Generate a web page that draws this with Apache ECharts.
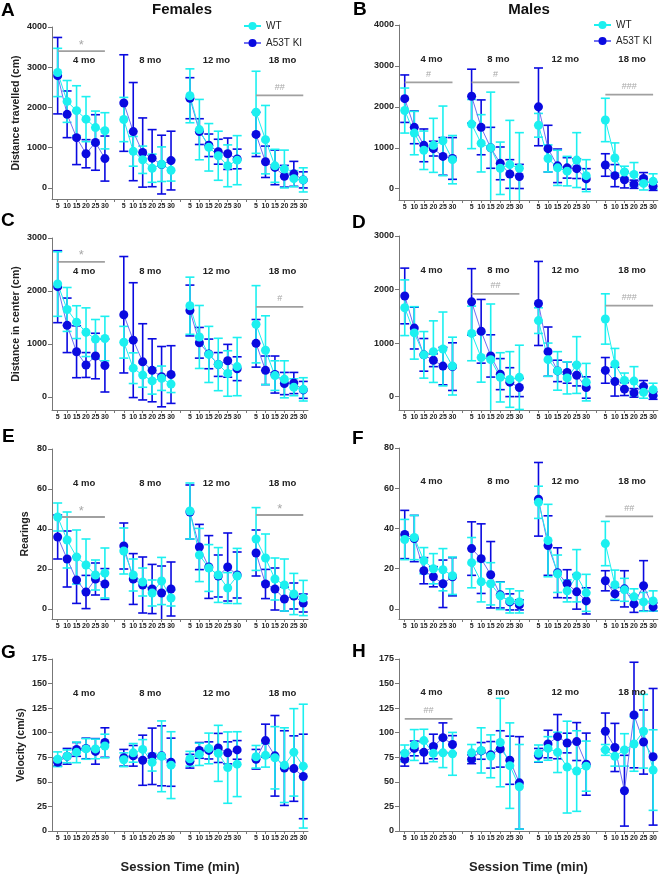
<!DOCTYPE html>
<html>
<head>
<meta charset="utf-8">
<title>Open field, WT vs A53T KI</title>
<script src="https://cdn.jsdelivr.net/npm/echarts@6/dist/echarts.min.js"></script>
<style>
  html, body { margin: 0; padding: 0; background: #fff; }
  #chart { width: 660px; height: 877px; }
</style>
</head>
<body>
<div id="chart"></div>
<script>
// session bins (min) and age groups, 6 bins per age
const minutes = [5, 10, 15, 20, 25, 30]
const ages = ['4 mo', '8 mo', '12 mo', '18 mo']

// A - females, distance travelled (cm); values are 4mo | 8mo | 12mo | 18mo
const aWT = [2870, 2150, 1920, 1710, 1500, 1420, 1700, 910, 700, 490, 590, 440, 2290, 1450, 1010, 800, 550, 690, 1880, 1200, 550, 470, 230, 200]
const aWTsd = [600, 520, 620, 560, 410, 450, 550, 370, 340, 350, 430, 270, 670, 750, 590, 610, 520, 610, 1020, 850, 410, 470, 200, 300]
const aKI = [2790, 1830, 1250, 850, 1130, 730, 2110, 1400, 880, 740, 580, 680, 2230, 1400, 1060, 900, 850, 720, 1330, 650, 510, 290, 350, 200]
const aKIsd = [950, 580, 670, 350, 690, 560, 1200, 1220, 860, 710, 730, 730, 510, 320, 280, 310, 390, 245, 550, 390, 430, 270, 310, 200]

// B - males, distance travelled (cm)
const bWT = [1910, 1360, 940, 1060, 1170, 710, 1580, 1110, 1000, 500, 590, 500, 1550, 740, 510, 430, 700, 320, 1680, 750, 410, 350, 130, 180]
const bWTsd = [550, 530, 470, 660, 850, 590, 600, 700, 1360, 640, 1080, 870, 290, 330, 430, 360, 670, 390, 530, 370, 140, 290, 160, 185]
const bKI = [2200, 1500, 1060, 980, 790, 740, 2260, 1500, 1000, 620, 360, 300, 2000, 980, 560, 510, 490, 240, 580, 320, 220, 110, 250, 60]
const bKIsd = [580, 400, 400, 180, 460, 510, 660, 670, 500, 400, 350, 295, 950, 570, 410, 250, 240, 250, 275, 270, 200, 100, 145, 100]

// C - females, distance in center (cm)
const cWT = [2130, 1650, 1410, 1220, 1090, 1100, 1030, 540, 410, 300, 350, 240, 1720, 1130, 800, 610, 440, 570, 1370, 880, 400, 330, 180, 140]
const cWTsd = [610, 415, 310, 460, 370, 420, 300, 290, 230, 250, 230, 160, 540, 595, 530, 495, 430, 550, 730, 650, 280, 350, 160, 220]
const cKI = [2080, 1350, 850, 600, 770, 590, 1550, 1070, 660, 500, 380, 420, 1630, 1020, 810, 610, 680, 530, 1010, 500, 420, 250, 260, 130]
const cKIsd = [680, 515, 490, 235, 430, 500, 1100, 1085, 720, 595, 570, 545, 480, 290, 280, 225, 310, 225, 450, 270, 350, 210, 200, 160]

// D - males, distance in center (cm)
const dWT = [1660, 1190, 780, 840, 890, 570, 1180, 730, 690, 360, 320, 360, 1420, 690, 480, 350, 590, 270, 1450, 610, 300, 290, 80, 130]
const dWTsd = [520, 490, 435, 575, 690, 540, 510, 460, 1040, 460, 520, 600, 240, 310, 360, 300, 530, 350, 470, 290, 140, 270, 110, 120]
const dKI = [1880, 1280, 780, 680, 570, 560, 1770, 1220, 760, 420, 270, 170, 1740, 840, 480, 450, 400, 170, 490, 280, 140, 70, 190, 20]
const dKIsd = [520, 390, 305, 120, 350, 445, 620, 595, 395, 290, 270, 170, 785, 460, 200, 200, 200, 200, 240, 270, 120, 80, 110, 70]

// E - females, rearings
const eWT = [46, 34.5, 26, 22, 17, 18, 29, 17, 13.5, 8, 14, 5.5, 49, 27, 20.5, 17, 10.5, 16.5, 35, 25.5, 15, 12, 7.5, 5.5]
const eWTsd = [7, 14, 13.5, 13, 7.5, 12.5, 11.5, 8, 7, 6.5, 11.8, 4, 14, 13.3, 11.7, 13.7, 7.7, 13.8, 15.7, 12, 10.5, 13, 10.3, 8.8]
const eKI = [36, 25, 14.5, 8.5, 15, 12.5, 31.5, 15, 12, 10, 8, 10, 48.5, 31, 21, 16.5, 21, 17, 28, 12.5, 10, 5, 6.5, 3]
const eKIsd = [11, 14, 11.7, 8.3, 8, 7.7, 11.5, 12.7, 14, 12.3, 13.5, 13.5, 13.5, 11.3, 15.7, 10.5, 17, 11.5, 11.5, 7.3, 10.5, 6, 6.5, 4.5]

// F - males, rearings
const fWT = [34.5, 35.5, 24, 20, 19.5, 16.5, 23, 13.5, 12.5, 6.5, 4, 3.5, 53, 34, 17.5, 9, 16.5, 8, 32.5, 12, 9.5, 6, 3.5, 4]
const fWTsd = [10, 11, 6.5, 7.5, 10.5, 9.3, 12.5, 10, 10.5, 6.8, 6, 5.5, 8, 18, 9.3, 5.5, 13, 9.2, 11, 7.3, 5.7, 4, 4.7, 5]
const fKI = [37, 35, 19, 16, 12.5, 16, 30, 25, 17, 7, 3.5, 2, 54.5, 31.5, 18, 12.5, 8.5, 4, 14, 7.5, 10, 2.5, 11.5, 1]
const fKIsd = [12, 11.5, 6.5, 5, 11.8, 9.5, 13.3, 17.3, 16.5, 6.5, 4, 2.5, 18.3, 14.8, 12.4, 7, 8.6, 6.5, 5, 3.2, 9, 4.2, 12.5, 2]

// G - females, velocity (cm/s)
const gWT = [73, 76, 80, 83.5, 83.5, 86.5, 72.5, 79.5, 83, 70, 76, 67, 73.5, 78, 84, 79, 64.5, 68, 75.5, 77, 74.5, 67, 80, 66]
const gWTsd = [7.5, 6.5, 10.5, 10.5, 10, 12, 7, 9.5, 10, 9, 36, 34, 7.5, 11.3, 15.6, 28.5, 36.3, 33, 11.5, 12, 31.7, 38, 44.5, 63]
const gKI = [70, 76, 83, 84, 81, 90, 74.5, 76.5, 72, 76, 76.5, 70, 71, 82, 82, 84.5, 79.5, 82.5, 73, 92, 76.5, 64, 63.5, 55.5]
const gKIsd = [4, 8, 7, 10.5, 13, 15, 8.5, 10.5, 25.5, 28.7, 30.5, 24.5, 7, 8, 8.7, 14.8, 11.2, 9.5, 10, 16.7, 41, 38, 33.3, 43]

// H - males, velocity (cm/s)
const hWT = [79, 87.5, 92, 79, 79.5, 78.5, 79.5, 82, 76, 90, 66.5, 45, 79, 84, 80, 65, 61, 66, 82.5, 76, 82.5, 88.5, 101.5, 62]
const hWTsd = [8.5, 15.7, 11.5, 8.5, 15, 21.8, 8.5, 23, 21.8, 45, 43.5, 43, 8.5, 12, 20.5, 46.7, 41, 25.5, 5.5, 10, 16.5, 27.7, 37.5, 41]
const hKI = [73, 84, 80, 86, 95, 88, 73, 81.5, 77.5, 83.5, 72, 49, 77, 88.5, 96, 89.5, 91, 68, 101.5, 85, 41, 118, 90.5, 75.5]
const hKIsd = [7, 7.5, 11.2, 12.5, 15, 9, 4.5, 8.5, 13.5, 18.5, 24.5, 47, 7, 14, 22.5, 10, 19.3, 31.6, 18.5, 24.5, 36, 53.7, 32.6, 69.5]

// significance bars: [from slot, to slot, level, mark]
const aSig = [[0, 5, 3400, '*'], [21, 26, 2300, '##']]
const bSig = [[0, 5, 2600, '#'], [7, 12, 2600, '#'], [21, 26, 2300, '###']]
const cSig = [[0, 5, 2550, '*'], [21, 26, 1700, '#']]
const dSig = [[7, 12, 1920, '##'], [21, 26, 1700, '###']]
const eSig = [[0, 5, 46, '*'], [21, 26, 47, '*']]
const fSig = [[21, 26, 46, '##']]
const gSig = []
const hSig = [[0, 5, 114, '##']]

// y-axis tick labels
const distTicks = [0, 1000, 2000, 3000, 4000]
const centerTicks = [0, 1000, 2000, 3000]
const rearTicks = [0, 20, 40, 60, 80]
const velTicks = [0, 25, 50, 75, 100, 125, 150, 175]

const WT = '#1cf0f0'
const KI = '#0a0ae0'
const KI_LINE = '#6f6ff2'
const FONT = '"Liberation Sans", Arial, sans-serif'
const SLOT = 7 // 6 bins + 1 empty slot between age groups

const panels = [
  { letter: 'A', wt: aWT, wtSd: aWTsd, ki: aKI, kiSd: aKIsd, sig: aSig, ticks: distTicks, min: -275, max: 4000, labelY: 3180,
    left: 52, width: 256, top: 27, height: 172, name: 'Distance travelled (cm)', nameGap: 30, lx: 1, ly: 11 },
  { letter: 'B', wt: bWT, wtSd: bWTsd, ki: bKI, kiSd: bKIsd, sig: bSig, ticks: distTicks, min: -275, max: 4000, labelY: 3170,
    left: 399, width: 259, top: 25, height: 175, lx: 353, ly: 10 },
  { letter: 'C', wt: cWT, wtSd: cWTsd, ki: cKI, kiSd: cKIsd, sig: cSig, ticks: centerTicks, min: -250, max: 3000, labelY: 2360,
    left: 52, width: 256, top: 238, height: 172, name: 'Distance in center (cm)', nameGap: 30, lx: 1, ly: 221 },
  { letter: 'D', wt: dWT, wtSd: dWTsd, ki: dKI, kiSd: dKIsd, sig: dSig, ticks: centerTicks, min: -250, max: 3000, labelY: 2350,
    left: 399, width: 259, top: 236, height: 174, lx: 352, ly: 223 },
  { letter: 'E', wt: eWT, wtSd: eWTsd, ki: eKI, kiSd: eKIsd, sig: eSig, ticks: rearTicks, min: -5, max: 80, labelY: 63,
    left: 52, width: 256, top: 449, height: 170, name: 'Rearings', nameGap: 21, lx: 2, ly: 437 },
  { letter: 'F', wt: fWT, wtSd: fWTsd, ki: fKI, kiSd: fKIsd, sig: fSig, ticks: rearTicks, min: -5, max: 80, labelY: 63.5,
    left: 399, width: 259, top: 448, height: 171, lx: 352, ly: 439 },
  { letter: 'G', wt: gWT, wtSd: gWTsd, ki: gKI, kiSd: gKIsd, sig: gSig, ticks: velTicks, min: 0, max: 175, labelY: 140,
    left: 52, width: 256, top: 659, height: 172, name: 'Velocity (cm/s)', nameGap: 25, lx: 1, ly: 653, xName: true },
  { letter: 'H', wt: hWT, wtSd: hWTsd, ki: hKI, kiSd: hKIsd, sig: hSig, ticks: velTicks, min: 0, max: 175, labelY: 141,
    left: 399, width: 259, top: 659, height: 172, lx: 352, ly: 652, xName: true }
]

const slotOf = k => Math.floor(k / 6) * SLOT + (k % 6)
const allSlots = Array.from({ length: 27 }, (v, i) => i)
const binSlots = minutes.flatMap((m, i) => ages.map((a, g) => g * SLOT + i)).sort((p, q) => p - q)

// line data with a break between age groups
function lineData (vals) {
  const out = []
  vals.forEach((v, k) => {
    out.push([slotOf(k), v])
    if (k % 6 === 5 && k < vals.length - 1) out.push([slotOf(k) + 1, '-'])
  })
  return out
}

function errData (vals, sd) {
  return vals.map((v, k) => [slotOf(k), v - sd[k], v + sd[k]])
}

function errorBars (color, yMin) {
  return function (params, api) {
    const x = api.value(0)
    const lo = api.value(1)
    const hi = api.value(2)
    const t = api.coord([x, hi])
    const b = api.coord([x, Math.max(lo, yMin)])
    const w = 4.5
    const style = { stroke: color, lineWidth: 1.6 }
    const kids = [
      { type: 'line', shape: { x1: t[0], y1: t[1], x2: b[0], y2: b[1] }, style },
      { type: 'line', shape: { x1: t[0] - w, y1: t[1], x2: t[0] + w, y2: t[1] }, style }
    ]
    if (lo >= yMin) kids.push({ type: 'line', shape: { x1: b[0] - w, y1: b[1], x2: b[0] + w, y2: b[1] }, style })
    return { type: 'group', children: kids }
  }
}

const grid = []
const xAxis = []
const yAxis = []
const series = []
const graphic = []

panels.forEach((p, i) => {
  grid.push({ left: p.left, width: p.width, top: p.top, height: p.height })
  xAxis.push({
    type: 'value', gridIndex: i, min: -0.6, max: 26.5,
    axisLine: { onZero: false, lineStyle: { color: '#777' } },
    axisTick: { customValues: allSlots, length: 3, lineStyle: { color: '#777' } },
    axisLabel: {
      customValues: binSlots, margin: 4, fontSize: 7, fontWeight: 'bold', color: '#222', fontFamily: FONT,
      formatter: v => minutes[Math.round(v) % SLOT]
    },
    splitLine: { show: false },
    name: p.xName ? 'Session Time (min)' : '', nameLocation: 'middle', nameGap: 30,
    nameTextStyle: { fontSize: 13, fontWeight: 'bold', color: '#222', fontFamily: FONT }
  })
  yAxis.push({
    type: 'value', gridIndex: i, min: p.min, max: p.max,
    axisLine: { show: true, onZero: false, lineStyle: { color: '#777' } },
    axisTick: { show: true, customValues: p.ticks, length: 4, lineStyle: { color: '#777' } },
    axisLabel: {
      customValues: p.ticks, margin: 5, fontSize: 9, fontWeight: 'bold', color: '#222', fontFamily: FONT,
      formatter: v => String(v)
    },
    splitLine: { show: false },
    name: p.name || '', nameLocation: 'middle', nameGap: p.nameGap || 30,
    nameTextStyle: { fontSize: 10.5, fontWeight: 'bold', color: '#222', fontFamily: FONT }
  })

  const ax = { xAxisIndex: i, yAxisIndex: i }
  series.push({
    ...ax, type: 'custom', data: errData(p.ki, p.kiSd),
    encode: { x: 0, y: [1, 2] }, renderItem: errorBars(KI, p.min), silent: true
  })
  series.push({
    ...ax, type: 'line', name: 'A53T KI', data: lineData(p.ki), connectNulls: false,
    symbol: 'circle', symbolSize: 9, itemStyle: { color: KI }, lineStyle: { color: KI_LINE, width: 1 }
  })
  series.push({
    ...ax, type: 'custom', data: errData(p.wt, p.wtSd),
    encode: { x: 0, y: [1, 2] }, renderItem: errorBars(WT, p.min), silent: true
  })
  series.push({
    ...ax, type: 'line', name: 'WT', data: lineData(p.wt), connectNulls: false,
    symbol: 'circle', symbolSize: 9, itemStyle: { color: WT }, lineStyle: { color: WT, width: 1 }
  })
  // significance bars
  series.push({
    ...ax, type: 'custom', data: p.sig.map(s => [s[0], s[1], s[2]]), encode: { x: [0, 1], y: 2 }, silent: true,
    renderItem: (params, api) => {
      const a = api.coord([api.value(0), api.value(2)])
      const b = api.coord([api.value(1), api.value(2)])
      const mark = p.sig[params.dataIndex][3]
      const star = mark === '*'
      return {
        type: 'group',
        children: [
          { type: 'line', shape: { x1: a[0], y1: a[1], x2: b[0], y2: b[1] }, style: { stroke: '#a0a0a0', lineWidth: 1.8 } },
          { type: 'text', x: (a[0] + b[0]) / 2, y: a[1] - (star ? 6 : 8),
            style: { text: mark, align: 'center', verticalAlign: 'middle', fill: '#a8a8a8', font: (star ? '13px ' : '9px ') + FONT } }
        ]
      }
    }
  })
  // age group labels
  series.push({
    ...ax, type: 'custom', data: ages.map((a, g) => [g * SLOT + 2.8, p.labelY]), encode: { x: 0, y: 1 }, silent: true,
    renderItem: (params, api) => {
      const pt = api.coord([api.value(0), api.value(1)])
      return {
        type: 'text', x: pt[0], y: pt[1],
        style: { text: ages[params.dataIndex], align: 'center', verticalAlign: 'middle', fill: '#222', font: 'bold 9.5px ' + FONT }
      }
    }
  })

  graphic.push({
    type: 'text', x: p.lx, y: p.ly,
    style: { text: p.letter, font: 'bold 19px ' + FONT, fill: '#000', align: 'left', verticalAlign: 'middle' }
  })
})

graphic.push({ type: 'text', x: 182, y: 10, style: { text: 'Females', font: 'bold 15px ' + FONT, fill: '#111', align: 'center', verticalAlign: 'middle' } })
graphic.push({ type: 'text', x: 529, y: 10, style: { text: 'Males', font: 'bold 15px ' + FONT, fill: '#111', align: 'center', verticalAlign: 'middle' } })

const legendBase = {
  data: ['WT', 'A53T KI'], orient: 'vertical', itemWidth: 17, itemHeight: 10, selectedMode: false,
  textStyle: { fontSize: 10, color: '#222', fontFamily: FONT }
}

const chart = echarts.init(document.getElementById('chart'), null, { renderer: 'canvas' })
chart.setOption({
  animation: false,
  backgroundColor: '#fff',
  grid, xAxis, yAxis, series, graphic,
  legend: [
    { ...legendBase, left: 238, top: 16, itemGap: 7 },
    { ...legendBase, left: 588, top: 15, itemGap: 6 }
  ]
})
</script>
</body>
</html>
